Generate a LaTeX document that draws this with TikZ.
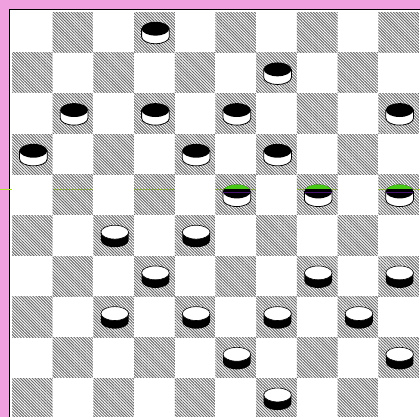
\documentclass[tikz,border=0pt]{standalone}
\usepackage{xcolor}
\usetikzlibrary{patterns.meta}

\definecolor{margin}{RGB}{240,160,222}
\definecolor{scanline}{RGB}{175,232,40}
\definecolor{scangreen}{RGB}{70,200,20}
\definecolor{scanviolet}{RGB}{70,20,110}

\tikzset{
  darksq/.style={pattern={Lines[angle=-45,distance=2.1pt,line width=0.95pt]},pattern color=black!58},
  lightsq/.style={fill=white},
  rim/.style={line width=0.8pt}
}

% one man: #1 column, #2 row from the top
\newcommand{\blackman}[2]{%
  \pgfmathsetmacro\manx{#1+0.525}\pgfmathsetmacro\many{9.59-#2}%
  \filldraw[fill=white,draw=black,rim] (\manx-0.34,\many) -- ++(0,-0.2)
    arc[start angle=180,end angle=360,x radius=0.34,y radius=0.17] -- ++(0,0.2) -- cycle;
  \fill[black] (\manx,\many) ellipse [x radius=0.34,y radius=0.17];
}
\newcommand{\whiteman}[2]{%
  \pgfmathsetmacro\manx{#1+0.525}\pgfmathsetmacro\many{9.59-#2}%
  \fill[black] (\manx-0.34,\many) -- ++(0,-0.2)
    arc[start angle=180,end angle=360,x radius=0.34,y radius=0.17] -- ++(0,0.2) -- cycle;
  \filldraw[fill=white,draw=black,line width=0.6pt] (\manx,\many) ellipse [x radius=0.34,y radius=0.17];
}

\begin{document}
\begin{tikzpicture}[scale=1.437]
\useasboundingbox (-0.295,0.049) rectangle (10.025,10.295);
\fill[margin] (-0.295,0.049) rectangle (10.025,10.295);
\fill[white] (-0.061,0.049) rectangle (10.025,10.061);
\draw[line width=1.8pt] (-0.061,0.049) -- (-0.061,10.061) -- (10.025,10.061);
\draw[scanline,line width=0.7pt] (-0.295,5.651) -- (10.025,5.651);

% squares
\foreach \c in {0,...,9} {
  \foreach \r in {0,...,9} {
    \pgfmathtruncatemacro\k{mod(\r+\c,2)}
    \ifnum\k=1
      \fill[darksq] (\c,9-\r) rectangle (\c+1,10-\r);
    \else
      \fill[lightsq] (\c,9-\r) rectangle (\c+1,10-\r);
    \fi
  }
}

% men
\foreach \c/\r in {3/0,6/1,1/2,3/2,5/2,9/2,0/3,4/3,6/3,5/4,7/4,9/4}
  {\blackman{\c}{\r}}
\foreach \c/\r in {2/5,4/5,3/6,7/6,9/6,2/7,4/7,6/7,8/7,5/8,9/8,6/9}
  {\whiteman{\c}{\r}}

% scan line over the men on row 4
\foreach \c in {5,7,9} {
  \begin{scope}
    \clip (\c+0.525,5.59) ellipse [x radius=0.34,y radius=0.17];
    \fill[scangreen] (\c+0.1,5.65) rectangle (\c+1,5.77);
    \draw[scanviolet,line width=0.6pt] (\c+0.1,5.56) -- (\c+1,5.56);
  \end{scope}
}
\end{tikzpicture}
\end{document}
